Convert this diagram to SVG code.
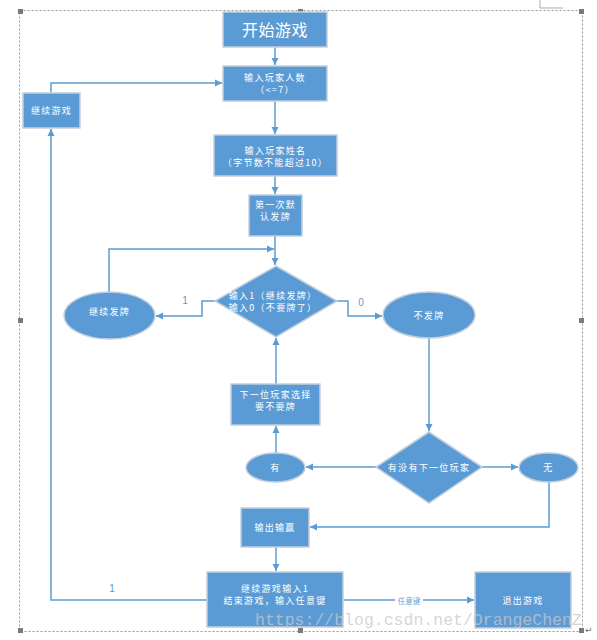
<svg xmlns="http://www.w3.org/2000/svg" width="597" height="640" viewBox="0 0 597 640">
<style>
.bx{fill:#5B9BD5;stroke:#c3cfdc;stroke-width:1.5}
.t{fill:#ffffff;font-family:"Noto Sans CJK SC","Noto Sans",sans-serif;font-size:9px;letter-spacing:1.3px;text-anchor:middle;dominant-baseline:central}
.big{font-size:16px;letter-spacing:0.5px}
.ln{fill:none;stroke:#5B9BD5;stroke-width:1.5}
.lb{fill:#5B9BD5;font-family:"Liberation Sans",sans-serif;font-size:10px;text-anchor:middle;dominant-baseline:central}
.frame{fill:none;stroke:#999;stroke-width:1;stroke-dasharray:2,2}
.h{fill:#7a7a7a}
</style>
<defs>
<marker id="ar" markerWidth="8" markerHeight="8" refX="7" refY="4" orient="auto" markerUnits="userSpaceOnUse">
<path d="M0,0.5 L7,4 L0,7.5 Z" fill="#5B9BD5"/>
</marker>
</defs>
<rect width="597" height="640" fill="#ffffff"/>
<g id="frame">
<path d="M540,0 V8 H563" fill="none" stroke="#aaa" stroke-width="1"/>
<rect class="frame" x="19.5" y="10.5" width="563" height="621"/>
<rect class="h" x="18" y="9" width="5" height="5"/>
<rect class="h" x="298" y="9" width="5" height="5"/>
<rect class="h" x="579" y="9" width="5" height="5"/>
<rect class="h" x="18" y="318" width="5" height="5"/>
<rect class="h" x="579" y="318" width="5" height="5"/>
<rect class="h" x="18" y="628" width="5" height="5"/>
<rect class="h" x="298" y="628" width="5" height="5"/>
<rect class="h" x="579" y="628" width="5" height="5"/>
<text x="585" y="633" font-family="DejaVu Sans,sans-serif" font-size="9" fill="#777">↵</text>
</g>
<g id="connectors">
<path class="ln" d="M275,47 V65" marker-end="url(#ar)"/>
<path class="ln" d="M51,93 V83 H222" marker-end="url(#ar)"/>
<path class="ln" d="M275,101 V134" marker-end="url(#ar)"/>
<path class="ln" d="M275,176 V194" marker-end="url(#ar)"/>
<path class="ln" d="M275,236 V265" marker-end="url(#ar)"/>
<path class="ln" d="M109,292 V249 H274" marker-end="url(#ar)"/>
<path class="ln" d="M215,301 H202 V316 H156" marker-end="url(#ar)"/>
<text class="lb" x="185" y="300">1</text>
<path class="ln" d="M337,301 H348 V316 H382" marker-end="url(#ar)"/>
<text class="lb" x="361" y="302">0</text>
<path class="ln" d="M429,338 V431" marker-end="url(#ar)"/>
<path class="ln" d="M276,384 V338" marker-end="url(#ar)"/>
<path class="ln" d="M376,467 H306" marker-end="url(#ar)"/>
<path class="ln" d="M276,453 V426" marker-end="url(#ar)"/>
<path class="ln" d="M482,467 H518" marker-end="url(#ar)"/>
<path class="ln" d="M549,482 V527 H310" marker-end="url(#ar)"/>
<path class="ln" d="M276,547 V571" marker-end="url(#ar)"/>
<path class="ln" d="M207,600 H51 V129" marker-end="url(#ar)"/>
<text class="lb" x="112" y="588">1</text>
<path class="ln" d="M343,600 H474" marker-end="url(#ar)"/>
<rect x="395" y="595" width="28" height="10" fill="#ffffff"/>
<text x="409" y="600" font-family="Noto Sans CJK SC,sans-serif" font-size="7.5" fill="#6f9dd0" text-anchor="middle" dominant-baseline="central">任意键</text>
</g>
<g id="start">
<rect class="bx" x="223" y="12" width="104" height="35"/>
<text class="t big" x="275" y="29">开始游戏</text>
</g>
<g id="inputCount">
<rect class="bx" x="223" y="66" width="104" height="35"/>
<text class="t" x="275" y="77" letter-spacing="1.8">输入玩家人数</text>
<text class="t" x="275" y="89">（&lt;=7）</text>
</g>
<g id="continueGame">
<rect class="bx" x="23" y="93" width="57" height="35"/>
<text class="t" x="51.5" y="110" letter-spacing="0.6">继续游戏</text>
</g>
<g id="inputName">
<rect class="bx" x="214" y="135" width="123" height="41"/>
<text class="t" x="275.5" y="150" letter-spacing="1.8">输入玩家姓名</text>
<text class="t" x="275.5" y="162">（字节数不能超过10）</text>
</g>
<g id="firstDeal">
<rect class="bx" x="249" y="195" width="53" height="41"/>
<text class="t" x="275.5" y="204">第一次默</text>
<text class="t" x="275.5" y="216">认发牌</text>
</g>
<g id="decision1">
<polygon class="bx" points="276,266 337,301 276,337 215,301" stroke="none"/>
<text class="t" x="273" y="295">输入1（继续发牌）</text>
<text class="t" x="273" y="307">输入0（不要牌了）</text>
</g>
<g id="continueDeal">
<ellipse class="bx" cx="109.5" cy="315.5" rx="45.5" ry="23.5" stroke="none"/>
<text class="t" x="109.5" y="311">继续发牌</text>
</g>
<g id="noDeal">
<ellipse class="bx" cx="429" cy="315" rx="46" ry="23" stroke="none"/>
<text class="t" x="429" y="315">不发牌</text>
</g>
<g id="nextChoose">
<rect class="bx" x="231" y="384" width="89" height="41"/>
<text class="t" x="275.5" y="394.5">下一位玩家选择</text>
<text class="t" x="275.5" y="406.5">要不要牌</text>
</g>
<g id="decision2">
<polygon class="bx" points="429,432 482,467 429,503 376,467" stroke="none"/>
<text class="t" x="429" y="467">有没有下一位玩家</text>
</g>
<g id="yes">
<ellipse class="bx" cx="275.5" cy="467.5" rx="29.5" ry="14.5" stroke="none"/>
<text class="t" x="275.5" y="467.5">有</text>
</g>
<g id="no">
<ellipse class="bx" cx="548.5" cy="467.5" rx="29.5" ry="14.5" stroke="none"/>
<text class="t" x="548.5" y="467.5">无</text>
</g>
<g id="result">
<rect class="bx" x="241" y="508" width="68" height="39"/>
<text class="t" x="275" y="527">输出输赢</text>
</g>
<g id="again">
<rect class="bx" x="207" y="572" width="136" height="55"/>
<text class="t" x="275" y="588">继续游戏输入1</text>
<text class="t" x="275" y="600">结束游戏，输入任意键</text>
</g>
<g id="exit">
<rect class="bx" x="475" y="572" width="96" height="56"/>
<text class="t" x="523" y="600">退出游戏</text>
</g>
<text x="255" y="625" font-family="Liberation Mono,monospace" font-size="16.5" fill="#c8c8c8" fill-opacity="0.75">https://blog.csdn.net/OrangeChenZ</text>
</svg>
